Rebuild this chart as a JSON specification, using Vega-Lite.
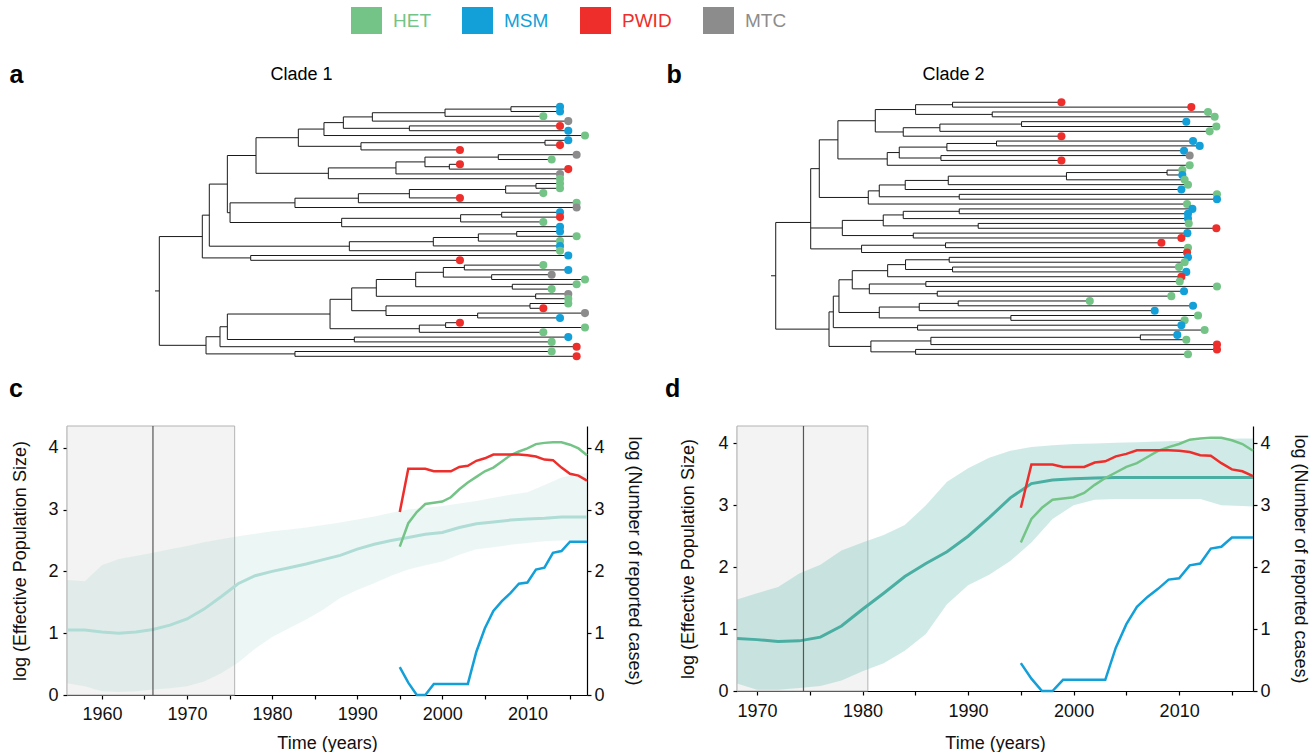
{
"$schema": "https://vega.github.io/schema/vega-lite/v6.json",
"padding": {"left": 9, "top": 5, "right": 5, "bottom": 0},
"background": "white",
"config": {
  "view": {"stroke": null},
  "font": "Liberation Sans",
  "title": {"font": "Liberation Sans", "color": "#000"},
  "axis": {"domainColor": "#000", "tickColor": "#000", "labelColor": "#111", "titleColor": "#111", "labelFont": "Liberation Sans", "titleFont": "Liberation Sans", "labelFontSize": 18, "titleFontSize": 18, "titleFontWeight": "normal", "grid": false, "tickSize": 4, "domainWidth": 1.2, "tickWidth": 1.2}
},
"datasets": {
"treeA": [
{"x":2014.04,"px":2008.22,"y":0,"g":"MSM"},{"x":2014.04,"px":2008.22,"y":1,"g":"MSM"},{"x":2012.06,"px":2000.40,"y":2,"g":"HET"},{"x":2015.02,"px":1991.78,"y":3,"g":"MTC"},{"x":2014.04,"px":1996.17,"y":4,"g":"PWID"},{"x":2015.02,"px":1996.17,"y":5,"g":"MSM"},{"x":2017.00,"px":1986.04,"y":6,"g":"HET"},{"x":2015.02,"px":2012.26,"y":7,"g":"MSM"},{"x":2014.04,"px":2012.26,"y":8,"g":"PWID"},{"x":2002.17,"px":1990.43,"y":9,"g":"PWID"},
{"x":2016.01,"px":2006.72,"y":10,"g":"MTC"},{"x":2013.05,"px":2006.72,"y":11,"g":"HET"},{"x":2002.17,"px":2000.91,"y":12,"g":"PWID"},{"x":2015.02,"px":2000.91,"y":13,"g":"PWID"},{"x":2014.04,"px":1994.58,"y":14,"g":"MTC"},{"x":2014.04,"px":1986.56,"y":15,"g":"HET"},{"x":2014.04,"px":2011.19,"y":16,"g":"HET"},{"x":2014.04,"px":2011.19,"y":17,"g":"HET"},{"x":2012.06,"px":2007.59,"y":18,"g":"HET"},{"x":2002.17,"px":1996.17,"y":19,"g":"PWID"},
{"x":2016.01,"px":1990.12,"y":20,"g":"HET"},{"x":2016.01,"px":1982.60,"y":21,"g":"MTC"},{"x":2014.04,"px":2007.12,"y":22,"g":"MSM"},{"x":2014.04,"px":2007.12,"y":23,"g":"PWID"},{"x":2012.06,"px":2002.25,"y":24,"g":"HET"},{"x":2014.04,"px":1988.14,"y":25,"g":"MSM"},{"x":2014.04,"px":2008.90,"y":26,"g":"MSM"},{"x":2016.01,"px":2008.90,"y":27,"g":"HET"},{"x":2014.04,"px":2004.35,"y":28,"g":"HET"},{"x":2014.04,"px":1999.01,"y":29,"g":"MSM"},
{"x":2014.04,"px":1989.05,"y":30,"g":"HET"},{"x":2015.02,"px":1977.35,"y":31,"g":"MSM"},{"x":2002.17,"px":1977.35,"y":32,"g":"PWID"},{"x":2012.06,"px":2002.69,"y":33,"g":"HET"},{"x":2015.02,"px":2002.69,"y":34,"g":"MSM"},{"x":2013.05,"px":2005.93,"y":35,"g":"MTC"},{"x":2017.00,"px":2005.93,"y":36,"g":"HET"},{"x":2016.01,"px":2008.38,"y":37,"g":"HET"},{"x":2013.05,"px":2008.38,"y":38,"g":"HET"},{"x":2015.02,"px":2011.15,"y":39,"g":"MTC"},
{"x":2015.02,"px":2011.15,"y":40,"g":"HET"},{"x":2015.02,"px":2010.48,"y":41,"g":"HET"},{"x":2012.06,"px":2010.48,"y":42,"g":"PWID"},{"x":2017.00,"px":2004.27,"y":43,"g":"MTC"},{"x":2014.04,"px":2004.27,"y":44,"g":"MSM"},{"x":2002.17,"px":2000.47,"y":45,"g":"PWID"},{"x":2017.00,"px":2000.47,"y":46,"g":"HET"},{"x":2012.06,"px":1997.35,"y":47,"g":"HET"},{"x":2015.02,"px":1989.64,"y":48,"g":"MSM"},{"x":2013.05,"px":1989.64,"y":49,"g":"HET"},
{"x":2016.01,"px":1973.71,"y":50,"g":"PWID"},{"x":2013.05,"px":1982.60,"y":51,"g":"HET"},{"x":2016.01,"px":1982.60,"y":52,"g":"PWID"},
{"x":2008.22,"px":2000.40,"y":0.5,"lo":0,"hi":1},{"x":2000.40,"px":1991.78,"y":1.25,"lo":0.5,"hi":2},{"x":1991.78,"px":1988.34,"y":2.125,"lo":1.25,"hi":3},{"x":1996.17,"px":1988.34,"y":4.5,"lo":4,"hi":5},{"x":1988.34,"px":1986.04,"y":3.3125,"lo":2.125,"hi":4.5},{"x":1986.04,"px":1983.00,"y":4.656,"lo":3.3125,"hi":6},{"x":2012.26,"px":1990.43,"y":7.5,"lo":7,"hi":8},{"x":1990.43,"px":1983.00,"y":8.25,"lo":7.5,"hi":9},{"x":1983.00,"px":1977.98,"y":6.453,"lo":4.656,"hi":8.25},
{"x":2006.72,"px":1998.02,"y":10.5,"lo":10,"hi":11},{"x":2000.91,"px":1998.02,"y":12.5,"lo":12,"hi":13},{"x":1998.02,"px":1994.58,"y":11.5,"lo":10.5,"hi":12.5},{"x":1994.58,"px":1986.56,"y":12.75,"lo":11.5,"hi":14},{"x":1986.56,"px":1977.98,"y":13.875,"lo":12.75,"hi":15},{"x":1977.98,"px":1974.58,"y":10.164,"lo":6.453,"hi":13.875},
{"x":2011.19,"px":2007.59,"y":16.5,"lo":16,"hi":17},{"x":2007.59,"px":1996.17,"y":17.25,"lo":16.5,"hi":18},{"x":1996.17,"px":1990.12,"y":18.125,"lo":17.25,"hi":19},{"x":1990.12,"px":1982.60,"y":19.06,"lo":18.125,"hi":20},{"x":1982.60,"px":1974.90,"y":20.03,"lo":19.06,"hi":21},
{"x":2007.12,"px":2002.25,"y":22.5,"lo":22,"hi":23},{"x":2002.25,"px":1988.14,"y":23.25,"lo":22.5,"hi":24},{"x":1988.14,"px":1974.90,"y":24.125,"lo":23.25,"hi":25},{"x":1974.90,"px":1974.58,"y":22.08,"lo":20.03,"hi":24.125},{"x":1974.58,"px":1972.44,"y":16.12,"lo":10.164,"hi":22.08},
{"x":2008.90,"px":2004.35,"y":26.5,"lo":26,"hi":27},{"x":2004.35,"px":1999.01,"y":27.25,"lo":26.5,"hi":28},{"x":1999.01,"px":1989.05,"y":28.125,"lo":27.25,"hi":29},{"x":1989.05,"px":1972.44,"y":29.06,"lo":28.125,"hi":30},{"x":1972.44,"px":1971.61,"y":22.59,"lo":16.12,"hi":29.06},{"x":1977.35,"px":1971.61,"y":31.5,"lo":31,"hi":32},{"x":1971.61,"px":1966.51,"y":27.05,"lo":22.59,"hi":31.5},
{"x":2002.69,"px":2000.20,"y":33.5,"lo":33,"hi":34},{"x":2005.93,"px":2000.20,"y":35.5,"lo":35,"hi":36},{"x":2000.20,"px":1996.92,"y":34.5,"lo":33.5,"hi":35.5},{"x":2008.38,"px":1996.92,"y":37.5,"lo":37,"hi":38},{"x":1996.92,"px":1992.25,"y":36,"lo":34.5,"hi":37.5},{"x":2011.15,"px":1992.25,"y":39.5,"lo":39,"hi":40},{"x":1992.25,"px":1989.33,"y":37.75,"lo":36,"hi":39.5},
{"x":2010.48,"px":1993.40,"y":41.5,"lo":41,"hi":42},{"x":2004.27,"px":1993.40,"y":43.5,"lo":43,"hi":44},{"x":1993.40,"px":1989.33,"y":42.5,"lo":41.5,"hi":43.5},{"x":1989.33,"px":1986.76,"y":40.125,"lo":37.75,"hi":42.5},{"x":2000.47,"px":1997.35,"y":45.5,"lo":45,"hi":46},{"x":1997.35,"px":1986.76,"y":46.25,"lo":45.5,"hi":47},{"x":1986.76,"px":1974.58,"y":43.19,"lo":40.125,"hi":46.25},
{"x":1989.64,"px":1974.58,"y":48.5,"lo":48,"hi":49},{"x":1974.58,"px":1973.71,"y":45.84,"lo":43.19,"hi":48.5},{"x":1973.71,"px":1972.05,"y":47.92,"lo":45.84,"hi":50},{"x":1982.60,"px":1972.05,"y":51.5,"lo":51,"hi":52},{"x":1972.05,"px":1966.51,"y":49.71,"lo":47.92,"hi":51.5},{"x":1966.51,"px":1966.00,"y":38.38,"lo":27.05,"hi":49.71}
],
"treeB": [
{"x":2002.14,"px":1991.74,"y":0,"g":"PWID"},{"x":2014.55,"px":1991.74,"y":1,"g":"PWID"},{"x":2016.14,"px":1995.53,"y":2,"g":"HET"},{"x":2016.78,"px":1995.53,"y":3,"g":"HET"},{"x":2014.07,"px":1998.33,"y":4,"g":"MSM"},{"x":2016.94,"px":1998.33,"y":5,"g":"HET"},{"x":2016.30,"px":1990.53,"y":6,"g":"HET"},{"x":2002.14,"px":1987.03,"y":7,"g":"PWID"},{"x":2014.71,"px":1995.94,"y":8,"g":"MSM"},{"x":2015.35,"px":1995.94,"y":9,"g":"MSM"},
{"x":2013.85,"px":1991.20,"y":10,"g":"MSM"},{"x":2014.39,"px":1990.63,"y":11,"g":"MTC"},{"x":2002.14,"px":1990.63,"y":12,"g":"PWID"},{"x":2014.39,"px":1985.50,"y":13,"g":"HET"},{"x":2013.69,"px":2012.23,"y":14,"g":"HET"},{"x":2013.69,"px":2012.23,"y":15,"g":"MSM"},{"x":2013.91,"px":2002.62,"y":16,"g":"HET"},{"x":2014.23,"px":1991.33,"y":17,"g":"HET"},{"x":2013.60,"px":1987.22,"y":18,"g":"MSM"},{"x":2017.00,"px":1992.38,"y":19,"g":"HET"},
{"x":2017.00,"px":1992.38,"y":20,"g":"MSM"},{"x":2014.14,"px":1983.69,"y":21,"g":"HET"},{"x":2014.65,"px":1992.38,"y":22,"g":"MSM"},{"x":2014.23,"px":1992.38,"y":23,"g":"MSM"},{"x":2014.23,"px":1987.03,"y":24,"g":"MSM"},{"x":2014.30,"px":1994.19,"y":25,"g":"HET"},{"x":2016.94,"px":1994.19,"y":26,"g":"PWID"},{"x":2014.17,"px":1987.99,"y":27,"g":"MSM"},{"x":2013.60,"px":1987.99,"y":28,"g":"PWID"},{"x":2011.69,"px":1991.07,"y":29,"g":"PWID"},
{"x":2014.23,"px":1991.07,"y":30,"g":"HET"},{"x":2014.14,"px":1983.05,"y":31,"g":"PWID"},{"x":2014.23,"px":1991.42,"y":32,"g":"MSM"},{"x":2013.91,"px":1991.42,"y":33,"g":"HET"},{"x":2013.37,"px":1991.74,"y":34,"g":"HET"},{"x":2014.07,"px":1991.74,"y":35,"g":"MSM"},{"x":2013.60,"px":1985.54,"y":36,"g":"PWID"},{"x":2013.44,"px":1989.19,"y":37,"g":"HET"},{"x":2017.00,"px":1989.19,"y":38,"g":"HET"},{"x":2013.85,"px":1990.28,"y":39,"g":"MSM"},
{"x":2012.64,"px":1990.28,"y":40,"g":"HET"},{"x":2004.85,"px":1992.28,"y":41,"g":"HET"},{"x":2014.71,"px":1992.28,"y":42,"g":"MSM"},{"x":2011.05,"px":1988.56,"y":43,"g":"MSM"},{"x":2015.19,"px":1997.31,"y":44,"g":"HET"},{"x":2013.91,"px":1997.31,"y":45,"g":"HET"},{"x":2013.60,"px":1988.40,"y":46,"g":"MSM"},{"x":2015.82,"px":1988.40,"y":47,"g":"HET"},{"x":2013.21,"px":2009.68,"y":48,"g":"MSM"},{"x":2014.07,"px":2009.68,"y":49,"g":"HET"},
{"x":2017.00,"px":1989.67,"y":50,"g":"PWID"},{"x":2017.00,"px":1988.21,"y":51,"g":"PWID"},{"x":2014.23,"px":1988.21,"y":52,"g":"HET"},
{"x":1991.74,"px":1988.21,"y":0.5,"lo":0,"hi":1},{"x":1995.53,"px":1988.21,"y":2.5,"lo":2,"hi":3},{"x":1988.21,"px":1984.36,"y":1.5,"lo":0.5,"hi":2.5},{"x":1998.33,"px":1990.53,"y":4.5,"lo":4,"hi":5},{"x":1990.53,"px":1987.03,"y":5.25,"lo":4.5,"hi":6},{"x":1987.03,"px":1984.36,"y":6.125,"lo":5.25,"hi":7},{"x":1984.36,"px":1980.79,"y":3.81,"lo":1.5,"hi":6.125},
{"x":1995.94,"px":1991.20,"y":8.5,"lo":8,"hi":9},{"x":1991.20,"px":1986.65,"y":9.25,"lo":8.5,"hi":10},{"x":1990.63,"px":1986.65,"y":11.5,"lo":11,"hi":12},{"x":1986.65,"px":1985.50,"y":10.375,"lo":9.25,"hi":11.5},{"x":1985.50,"px":1980.79,"y":11.69,"lo":10.375,"hi":13},{"x":1980.79,"px":1979.01,"y":7.75,"lo":3.81,"hi":11.69},
{"x":2012.23,"px":2002.62,"y":14.5,"lo":14,"hi":15},{"x":2002.62,"px":1991.33,"y":15.25,"lo":14.5,"hi":16},{"x":1991.33,"px":1987.22,"y":16.125,"lo":15.25,"hi":17},{"x":1987.22,"px":1984.74,"y":17.06,"lo":16.125,"hi":18},{"x":1992.38,"px":1984.74,"y":19.5,"lo":19,"hi":20},{"x":1984.74,"px":1983.69,"y":18.28,"lo":17.06,"hi":19.5},{"x":1983.69,"px":1979.01,"y":19.64,"lo":18.28,"hi":21},{"x":1979.01,"px":1978.19,"y":13.7,"lo":7.75,"hi":19.64},
{"x":1992.38,"px":1987.03,"y":22.5,"lo":22,"hi":23},{"x":1987.03,"px":1985.12,"y":23.25,"lo":22.5,"hi":24},{"x":1994.19,"px":1985.12,"y":25.5,"lo":25,"hi":26},{"x":1985.12,"px":1981.21,"y":24.375,"lo":23.25,"hi":25.5},{"x":1987.99,"px":1981.21,"y":27.5,"lo":27,"hi":28},{"x":1981.21,"px":1978.19,"y":25.94,"lo":24.375,"hi":27.5},
{"x":1991.07,"px":1983.05,"y":29.5,"lo":29,"hi":30},{"x":1983.05,"px":1978.19,"y":30.25,"lo":29.5,"hi":31},{"x":1978.19,"px":1974.85,"y":24.8,"lo":13.7,"hi":30.25},
{"x":1991.42,"px":1987.25,"y":32.5,"lo":32,"hi":33},{"x":1991.74,"px":1987.25,"y":34.5,"lo":34,"hi":35},{"x":1987.25,"px":1985.54,"y":33.5,"lo":32.5,"hi":34.5},{"x":1985.54,"px":1982.16,"y":34.75,"lo":33.5,"hi":36},{"x":1989.19,"px":1983.79,"y":37.5,"lo":37,"hi":38},{"x":1990.28,"px":1983.79,"y":39.5,"lo":39,"hi":40},{"x":1983.79,"px":1982.16,"y":38.5,"lo":37.5,"hi":39.5},{"x":1982.16,"px":1980.89,"y":36.625,"lo":34.75,"hi":38.5},
{"x":1992.28,"px":1988.56,"y":41.5,"lo":41,"hi":42},{"x":1988.56,"px":1984.74,"y":42.25,"lo":41.5,"hi":43},{"x":1997.31,"px":1984.74,"y":44.5,"lo":44,"hi":45},{"x":1984.74,"px":1980.89,"y":43.375,"lo":42.25,"hi":44.5},{"x":1980.89,"px":1980.35,"y":40.0,"lo":36.625,"hi":43.375},{"x":1988.40,"px":1980.35,"y":46.5,"lo":46,"hi":47},{"x":1980.35,"px":1979.94,"y":43.25,"lo":40.0,"hi":46.5},
{"x":2009.68,"px":1989.67,"y":48.5,"lo":48,"hi":49},{"x":1989.67,"px":1983.94,"y":49.25,"lo":48.5,"hi":50},{"x":1988.21,"px":1983.94,"y":51.5,"lo":51,"hi":52},{"x":1983.94,"px":1979.94,"y":50.375,"lo":49.25,"hi":51.5},{"x":1979.94,"px":1974.85,"y":46.81,"lo":43.25,"hi":50.375},{"x":1974.85,"px":1974.40,"y":35.8,"lo":24.8,"hi":46.81}
],
"cases": [
{"year":1995,"g":"HET","v":2.40},{"year":1996,"g":"HET","v":2.78},{"year":1997,"g":"HET","v":2.96},{"year":1998,"g":"HET","v":3.09},{"year":1999,"g":"HET","v":3.11},{"year":2000,"g":"HET","v":3.13},{"year":2001,"g":"HET","v":3.20},{"year":2002,"g":"HET","v":3.33},{"year":2003,"g":"HET","v":3.44},{"year":2004,"g":"HET","v":3.53},{"year":2005,"g":"HET","v":3.62},{"year":2006,"g":"HET","v":3.68},{"year":2007,"g":"HET","v":3.78},{"year":2008,"g":"HET","v":3.88},{"year":2009,"g":"HET","v":3.94},{"year":2010,"g":"HET","v":3.99},{"year":2011,"g":"HET","v":4.06},{"year":2012,"g":"HET","v":4.08},{"year":2013,"g":"HET","v":4.09},{"year":2014,"g":"HET","v":4.09},{"year":2015,"g":"HET","v":4.05},{"year":2016,"g":"HET","v":3.99},{"year":2017,"g":"HET","v":3.88},
{"year":1995,"g":"MSM","v":0.45},{"year":1996,"g":"MSM","v":0.20},{"year":1997,"g":"MSM","v":0.0},{"year":1998,"g":"MSM","v":0.0},{"year":1999,"g":"MSM","v":0.18},{"year":2000,"g":"MSM","v":0.18},{"year":2001,"g":"MSM","v":0.18},{"year":2002,"g":"MSM","v":0.18},{"year":2003,"g":"MSM","v":0.18},{"year":2004,"g":"MSM","v":0.70},{"year":2005,"g":"MSM","v":1.08},{"year":2006,"g":"MSM","v":1.36},{"year":2007,"g":"MSM","v":1.52},{"year":2008,"g":"MSM","v":1.65},{"year":2009,"g":"MSM","v":1.80},{"year":2010,"g":"MSM","v":1.82},{"year":2011,"g":"MSM","v":2.03},{"year":2012,"g":"MSM","v":2.06},{"year":2013,"g":"MSM","v":2.30},{"year":2014,"g":"MSM","v":2.33},{"year":2015,"g":"MSM","v":2.48},{"year":2016,"g":"MSM","v":2.48},{"year":2017,"g":"MSM","v":2.48},
{"year":1995,"g":"PWID","v":2.96},{"year":1996,"g":"PWID","v":3.66},{"year":1997,"g":"PWID","v":3.66},{"year":1998,"g":"PWID","v":3.66},{"year":1999,"g":"PWID","v":3.62},{"year":2000,"g":"PWID","v":3.62},{"year":2001,"g":"PWID","v":3.62},{"year":2002,"g":"PWID","v":3.69},{"year":2003,"g":"PWID","v":3.71},{"year":2004,"g":"PWID","v":3.79},{"year":2005,"g":"PWID","v":3.83},{"year":2006,"g":"PWID","v":3.89},{"year":2007,"g":"PWID","v":3.89},{"year":2008,"g":"PWID","v":3.89},{"year":2009,"g":"PWID","v":3.89},{"year":2010,"g":"PWID","v":3.88},{"year":2011,"g":"PWID","v":3.86},{"year":2012,"g":"PWID","v":3.81},{"year":2013,"g":"PWID","v":3.80},{"year":2014,"g":"PWID","v":3.68},{"year":2015,"g":"PWID","v":3.58},{"year":2016,"g":"PWID","v":3.55},{"year":2017,"g":"PWID","v":3.47}
],
"neC": [
{"year":1955.9,"lo":0.19,"med":1.05,"hi":1.86},{"year":1958,"lo":0.14,"med":1.05,"hi":1.84},{"year":1960,"lo":0.06,"med":1.02,"hi":2.10},{"year":1962,"lo":0.05,"med":1.00,"hi":2.20},{"year":1964,"lo":0.06,"med":1.02,"hi":2.25},{"year":1966,"lo":0.09,"med":1.06,"hi":2.30},{"year":1968,"lo":0.11,"med":1.13,"hi":2.36},{"year":1970,"lo":0.14,"med":1.23,"hi":2.41},{"year":1972,"lo":0.22,"med":1.39,"hi":2.47},{"year":1974,"lo":0.35,"med":1.59,"hi":2.52},{"year":1976,"lo":0.52,"med":1.80,"hi":2.57},{"year":1978,"lo":0.75,"med":1.93,"hi":2.61},{"year":1980,"lo":0.94,"med":2.00,"hi":2.65},{"year":1982,"lo":1.08,"med":2.06,"hi":2.68},{"year":1984,"lo":1.22,"med":2.12,"hi":2.71},{"year":1986,"lo":1.38,"med":2.19,"hi":2.75},{"year":1988,"lo":1.57,"med":2.26,"hi":2.79},{"year":1990,"lo":1.70,"med":2.36,"hi":2.84},{"year":1992,"lo":1.81,"med":2.44,"hi":2.89},{"year":1994,"lo":1.93,"med":2.50,"hi":2.95},{"year":1996,"lo":2.03,"med":2.55,"hi":3.00},{"year":1998,"lo":2.10,"med":2.60,"hi":3.03},{"year":2000,"lo":2.16,"med":2.63,"hi":3.06},{"year":2002,"lo":2.27,"med":2.71,"hi":3.10},{"year":2004,"lo":2.36,"med":2.77,"hi":3.14},{"year":2006,"lo":2.39,"med":2.80,"hi":3.19},{"year":2008,"lo":2.43,"med":2.83,"hi":3.24},{"year":2010,"lo":2.46,"med":2.85,"hi":3.28},{"year":2012,"lo":2.49,"med":2.86,"hi":3.40},{"year":2014,"lo":2.50,"med":2.88,"hi":3.52},{"year":2016,"lo":2.50,"med":2.88,"hi":3.58},{"year":2017,"lo":2.50,"med":2.88,"hi":3.59}
],
"neD": [
{"year":1968.1,"lo":0.12,"med":0.85,"hi":1.48},{"year":1970,"lo":0.02,"med":0.83,"hi":1.58},{"year":1972,"lo":0.02,"med":0.80,"hi":1.68},{"year":1974,"lo":0.05,"med":0.81,"hi":1.90},{"year":1976,"lo":0.08,"med":0.87,"hi":2.04},{"year":1978,"lo":0.17,"med":1.05,"hi":2.27},{"year":1980,"lo":0.32,"med":1.32,"hi":2.40},{"year":1982,"lo":0.45,"med":1.58,"hi":2.52},{"year":1984,"lo":0.65,"med":1.85,"hi":2.68},{"year":1986,"lo":0.92,"med":2.06,"hi":3.00},{"year":1988,"lo":1.40,"med":2.25,"hi":3.38},{"year":1990,"lo":1.71,"med":2.50,"hi":3.60},{"year":1992,"lo":1.88,"med":2.80,"hi":3.77},{"year":1994,"lo":2.10,"med":3.12,"hi":3.88},{"year":1996,"lo":2.40,"med":3.35,"hi":3.94},{"year":1998,"lo":2.78,"med":3.41,"hi":3.97},{"year":2000,"lo":3.00,"med":3.43,"hi":3.99},{"year":2002,"lo":3.09,"med":3.44,"hi":4.00},{"year":2004,"lo":3.10,"med":3.45,"hi":4.01},{"year":2006,"lo":3.10,"med":3.45,"hi":4.02},{"year":2008,"lo":3.10,"med":3.45,"hi":4.03},{"year":2010,"lo":3.10,"med":3.45,"hi":4.04},{"year":2012,"lo":3.10,"med":3.45,"hi":4.05},{"year":2014,"lo":3.00,"med":3.45,"hi":4.07},{"year":2016,"lo":2.99,"med":3.45,"hi":4.08},{"year":2017,"lo":2.98,"med":3.45,"hi":4.08}
]
},
"vconcat": [
{"hconcat": [
  {"width": 520, "height": 260,
   "data": {"name": "treeA"},
   "layer": [
     {"mark": {"type": "rule", "color": "#1a1a1a", "strokeWidth": 1},
      "encoding": {"x": {"field": "px", "type": "quantitative", "scale": {"domain": [1955.56, 2017.24], "nice": false, "zero": false},
                         "axis": {"orient": "top", "title": "Clade 1", "domain": false, "ticks": false, "labels": false, "grid": false, "titleX": 203, "titleY": -21, "titleAlign": "left", "titleBaseline": "alphabetic", "titleAngle": 0, "titleFontSize": 18, "titleColor": "#000"}},
                   "x2": {"field": "x"},
                   "y": {"field": "y", "type": "quantitative", "scale": {"domain": [-1.4, 52.77], "reverse": true, "nice": false, "zero": false},
                         "axis": {"title": "a", "domain": false, "ticks": false, "labels": false, "grid": false, "titleX": -58, "titleY": -18, "titleAlign": "left", "titleBaseline": "alphabetic", "titleAngle": 0, "titleFontSize": 25, "titleFontWeight": "bold", "titleColor": "#000"}}}},
     {"transform": [{"filter": "isValid(datum.lo)"}],
      "mark": {"type": "rule", "color": "#1a1a1a", "strokeWidth": 1},
      "encoding": {"x": {"field": "x", "type": "quantitative", "scale": {"domain": [1955.56, 2017.24], "nice": false, "zero": false},
                         "axis": {"orient": "top", "title": "Clade 1", "domain": false, "ticks": false, "labels": false, "grid": false, "titleX": 203, "titleY": -21, "titleAlign": "left", "titleBaseline": "alphabetic", "titleAngle": 0, "titleFontSize": 18, "titleColor": "#000"}},
                   "y": {"field": "lo", "type": "quantitative", "scale": {"domain": [-1.4, 52.77], "reverse": true, "nice": false, "zero": false},
                         "axis": {"title": "a", "domain": false, "ticks": false, "labels": false, "grid": false, "titleX": -58, "titleY": -18, "titleAlign": "left", "titleBaseline": "alphabetic", "titleAngle": 0, "titleFontSize": 25, "titleFontWeight": "bold", "titleColor": "#000"}},
                   "y2": {"field": "hi"}}},
     {"transform": [{"filter": "isValid(datum.g)"}],
      "mark": {"type": "circle", "size": 65, "opacity": 1},
      "encoding": {"x": {"field": "x", "type": "quantitative", "scale": {"domain": [1955.56, 2017.24], "nice": false, "zero": false},
                         "axis": {"orient": "top", "title": "Clade 1", "domain": false, "ticks": false, "labels": false, "grid": false, "titleX": 203, "titleY": -21, "titleAlign": "left", "titleBaseline": "alphabetic", "titleAngle": 0, "titleFontSize": 18, "titleColor": "#000"}},
                   "y": {"field": "y", "type": "quantitative", "scale": {"domain": [-1.4, 52.77], "reverse": true, "nice": false, "zero": false},
                         "axis": {"title": "a", "domain": false, "ticks": false, "labels": false, "grid": false, "titleX": -58, "titleY": -18, "titleAlign": "left", "titleBaseline": "alphabetic", "titleAngle": 0, "titleFontSize": 25, "titleFontWeight": "bold", "titleColor": "#000"}},
                   "color": {"field": "g", "type": "nominal", "scale": {"domain": ["HET", "MSM", "PWID", "MTC"], "range": ["#74c487", "#139fd8", "#ee2e2b", "#8c8c8c"]},
                             "legend": {"orient": "none", "legendX": 284, "legendY": -95, "direction": "horizontal", "title": null, "symbolType": "M-1,-0.87H1V0.87H-1Z", "symbolSize": 961, "symbolStrokeWidth": 0, "symbolOpacity": 1, "labelFontSize": 19, "labelFont": "Liberation Sans", "labelOffset": 11, "columnPadding": 31,
                                        "encode": {"labels": {"update": {"fill": {"scale": "color", "field": "value"}}}}}}}}
   ]
  },
  {"width": 516, "height": 260,
   "data": {"name": "treeB"},
   "layer": [
     {"mark": {"type": "rule", "color": "#1a1a1a", "strokeWidth": 1},
      "encoding": {"x": {"field": "px", "type": "quantitative", "scale": {"domain": [1971.15, 2020.44], "nice": false, "zero": false},
                         "axis": {"orient": "top", "title": "Clade 2", "domain": false, "ticks": false, "labels": false, "grid": false, "titleX": 185, "titleY": -21, "titleAlign": "left", "titleBaseline": "alphabetic", "titleAngle": 0, "titleFontSize": 18, "titleColor": "#000"}},
                   "x2": {"field": "x"},
                   "y": {"field": "y", "type": "quantitative", "scale": {"domain": [-0.47, 53.18], "reverse": true, "nice": false, "zero": false},
                         "axis": {"title": "b", "domain": false, "ticks": false, "labels": false, "grid": false, "titleX": -71, "titleY": -18, "titleAlign": "left", "titleBaseline": "alphabetic", "titleAngle": 0, "titleFontSize": 25, "titleFontWeight": "bold", "titleColor": "#000"}}}},
     {"transform": [{"filter": "isValid(datum.lo)"}],
      "mark": {"type": "rule", "color": "#1a1a1a", "strokeWidth": 1},
      "encoding": {"x": {"field": "x", "type": "quantitative", "scale": {"domain": [1971.15, 2020.44], "nice": false, "zero": false},
                         "axis": {"orient": "top", "title": "Clade 2", "domain": false, "ticks": false, "labels": false, "grid": false, "titleX": 185, "titleY": -21, "titleAlign": "left", "titleBaseline": "alphabetic", "titleAngle": 0, "titleFontSize": 18, "titleColor": "#000"}},
                   "y": {"field": "lo", "type": "quantitative", "scale": {"domain": [-0.47, 53.18], "reverse": true, "nice": false, "zero": false},
                         "axis": {"title": "b", "domain": false, "ticks": false, "labels": false, "grid": false, "titleX": -71, "titleY": -18, "titleAlign": "left", "titleBaseline": "alphabetic", "titleAngle": 0, "titleFontSize": 25, "titleFontWeight": "bold", "titleColor": "#000"}},
                   "y2": {"field": "hi"}}},
     {"transform": [{"filter": "isValid(datum.g)"}],
      "mark": {"type": "circle", "size": 65, "opacity": 1},
      "encoding": {"x": {"field": "x", "type": "quantitative", "scale": {"domain": [1971.15, 2020.44], "nice": false, "zero": false},
                         "axis": {"orient": "top", "title": "Clade 2", "domain": false, "ticks": false, "labels": false, "grid": false, "titleX": 185, "titleY": -21, "titleAlign": "left", "titleBaseline": "alphabetic", "titleAngle": 0, "titleFontSize": 18, "titleColor": "#000"}},
                   "y": {"field": "y", "type": "quantitative", "scale": {"domain": [-0.47, 53.18], "reverse": true, "nice": false, "zero": false},
                         "axis": {"title": "b", "domain": false, "ticks": false, "labels": false, "grid": false, "titleX": -71, "titleY": -18, "titleAlign": "left", "titleBaseline": "alphabetic", "titleAngle": 0, "titleFontSize": 25, "titleFontWeight": "bold", "titleColor": "#000"}},
                   "color": {"field": "g", "type": "nominal", "scale": {"domain": ["HET", "MSM", "PWID", "MTC"], "range": ["#74c487", "#139fd8", "#ee2e2b", "#8c8c8c"]}, "legend": null}}}
   ]
  }
 ], "spacing": 150, "bounds": "flush"},
{"hconcat": [
  {"width": 520, "height": 269,
   "title": {"text": "c", "anchor": "start", "frame": "group", "fontSize": 25, "fontWeight": "bold", "dx": -58, "dy": -3, "offset": 0, "baseline": "alphabetic"},
   "encoding": {"x": {"field": "year", "type": "quantitative", "scale": {"domain": [1955.9, 2017], "nice": false, "zero": false},
     "axis": {"title": "Time (years)", "values": [1960, 1965, 1970, 1975, 1980, 1985, 1990, 1995, 2000, 2005, 2010, 2015], "format": "d", "labelExpr": "datum.value % 10 == 0 ? datum.label : ''", "labelFlush": false, "labelPadding": 6, "titlePadding": 11}}},
   "layer": [
     {"layer": [
       {"data": {"values": [{"year": 1955.9, "year2": 1975.6}]}, "mark": {"type": "rect", "fill": "#f2f3f2", "stroke": "#b3b3b3", "strokeWidth": 1}, "encoding": {"x2": {"field": "year2"}}},
       {"data": {"name": "neC"}, "mark": {"type": "area", "color": "#7fc8bd", "opacity": 0.15},
        "encoding": {"y": {"field": "lo", "type": "quantitative", "scale": {"domain": [0, 4.353], "nice": false, "zero": false}, "axis": {"title": "log (Effective Population Size)", "values": [0, 1, 2, 3, 4], "labelPadding": 5, "titlePadding": 18}}, "y2": {"field": "hi"}}},
       {"data": {"name": "neC"}, "mark": {"type": "line", "color": "#b0dcd6", "strokeWidth": 3},
        "encoding": {"y": {"field": "med", "type": "quantitative", "scale": {"domain": [0, 4.353], "nice": false, "zero": false}, "axis": {"title": "log (Effective Population Size)", "values": [0, 1, 2, 3, 4], "labelPadding": 5, "titlePadding": 18}}}},
       {"data": {"values": [{"year": 1966.0}]}, "mark": {"type": "rule", "color": "#555", "strokeWidth": 1.2}, "encoding": {}}
     ]},
     {"data": {"name": "cases"}, "mark": {"type": "line", "strokeWidth": 2.5},
      "encoding": {"y": {"field": "v", "type": "quantitative", "scale": {"domain": [0, 4.353], "nice": false, "zero": false}, "axis": {"orient": "right", "title": "log (Number of reported cases)", "values": [0, 1, 2, 3, 4], "labelPadding": 3, "titlePadding": 20}},
                   "color": {"field": "g", "type": "nominal", "scale": {"domain": ["HET", "MSM", "PWID", "MTC"], "range": ["#74c487", "#139fd8", "#ee2e2b", "#8c8c8c"]}, "legend": null}}}
   ],
   "resolve": {"scale": {"y": "independent"}}
  },
  {"width": 516, "height": 265,
   "title": {"text": "d", "anchor": "start", "frame": "group", "fontSize": 25, "fontWeight": "bold", "dx": -72, "dy": -3, "offset": 0, "baseline": "alphabetic"},
   "encoding": {"x": {"field": "year", "type": "quantitative", "scale": {"domain": [1968.1, 2017], "nice": false, "zero": false},
     "axis": {"title": "Time (years)", "values": [1970, 1975, 1980, 1985, 1990, 1995, 2000, 2005, 2010, 2015], "format": "d", "labelExpr": "datum.value % 10 == 0 ? datum.label : ''", "labelFlush": false, "labelPadding": 7, "titlePadding": 14}}},
   "layer": [
     {"layer": [
       {"data": {"values": [{"year": 1968.1, "year2": 1980.5}]}, "mark": {"type": "rect", "fill": "#f2f3f2", "stroke": "#b3b3b3", "strokeWidth": 1}, "encoding": {"x2": {"field": "year2"}}},
       {"data": {"name": "neD"}, "mark": {"type": "area", "color": "#7fc8bd", "opacity": 0.37},
        "encoding": {"y": {"field": "lo", "type": "quantitative", "scale": {"domain": [0, 4.281], "nice": false, "zero": false}, "axis": {"title": "log (Effective Population Size)", "values": [0, 1, 2, 3, 4], "labelPadding": 5, "titlePadding": 20}}, "y2": {"field": "hi"}}},
       {"data": {"name": "neD"}, "mark": {"type": "line", "color": "#4aaea2", "strokeWidth": 3},
        "encoding": {"y": {"field": "med", "type": "quantitative", "scale": {"domain": [0, 4.281], "nice": false, "zero": false}, "axis": {"title": "log (Effective Population Size)", "values": [0, 1, 2, 3, 4], "labelPadding": 5, "titlePadding": 20}}}},
       {"data": {"values": [{"year": 1974.4}]}, "mark": {"type": "rule", "color": "#555", "strokeWidth": 1.2}, "encoding": {}}
     ]},
     {"data": {"name": "cases"}, "mark": {"type": "line", "strokeWidth": 2.5},
      "encoding": {"y": {"field": "v", "type": "quantitative", "scale": {"domain": [0, 4.281], "nice": false, "zero": false}, "axis": {"orient": "right", "title": "log (Number of reported cases)", "values": [0, 1, 2, 3, 4], "labelPadding": 3, "titlePadding": 20}},
                   "color": {"field": "g", "type": "nominal", "scale": {"domain": ["HET", "MSM", "PWID", "MTC"], "range": ["#74c487", "#139fd8", "#ee2e2b", "#8c8c8c"]}, "legend": null}}}
   ],
   "resolve": {"scale": {"y": "independent"}}
  }
 ], "spacing": 150, "bounds": "flush"}
],
"spacing": 16
}
